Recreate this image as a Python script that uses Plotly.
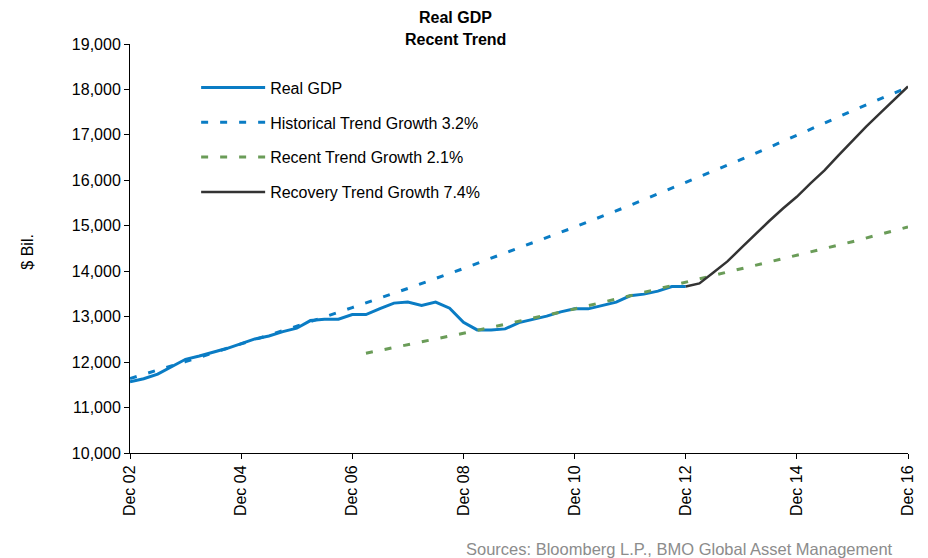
import pandas as pd
import plotly.graph_objects as go

# Quarterly dates, Dec 02 to Dec 16
quarters = pd.date_range("2002-12-01", "2016-12-01", freq="3MS")

# Real GDP ($ Bil.), Dec 02 - Dec 12
real_gdp = [11567, 11634, 11737, 11898, 12062, 12135, 12216, 12304, 12406, 12510,
            12576, 12671, 12746, 12914, 12945, 12945, 13046, 13046, 13179, 13298,
            13320, 13245, 13320, 13187, 12878, 12709, 12709, 12731, 12870, 12945,
            13011, 13106, 13172, 13172, 13238, 13320, 13459, 13496, 13562, 13664,
            13664]

# Recovery trend, Dec 12 - Dec 16
recovery = [13664, 13731, 13974, 14216, 14512, 14806, 15100, 15380, 15638, 15932,
            16219, 16550, 16865, 17183, 17477, 17770, 18065]

# Historical trend, read at each December
hist_dates = ["2002-12-01", "2003-12-01", "2004-12-01", "2005-12-01", "2006-12-01",
              "2007-12-01", "2008-12-01", "2009-12-01", "2010-12-01", "2011-12-01",
              "2012-12-01", "2013-12-01", "2014-12-01", "2015-12-01", "2016-12-01"]
hist_trend = [11640, 12010, 12400, 12790, 13200, 13620, 14060, 14510, 14970, 15450,
              15950, 16460, 16990, 17530, 18050]

# Recent trend, from Mar 07
recent_dates = ["2007-03-01", "2007-12-01", "2008-12-01", "2009-12-01", "2010-12-01",
                "2011-12-01", "2012-12-01", "2013-12-01", "2014-12-01", "2015-12-01",
                "2016-12-01"]
recent_trend = [12195, 12380, 12635, 12900, 13170, 13460, 13760, 14050, 14350, 14650,
                14975]

tick_dates = ["2002-12-01", "2004-12-01", "2006-12-01", "2008-12-01", "2010-12-01",
              "2012-12-01", "2014-12-01", "2016-12-01"]

font = "Liberation Sans, Arial, sans-serif"

fig = go.Figure()
fig.add_trace(go.Scatter(x=quarters[:41], y=real_gdp, mode="lines", name="Real GDP",
                         legendgroup="a", line=dict(color="#0a7cc4", width=3)))
fig.add_trace(go.Scatter(x=hist_dates, y=hist_trend, mode="lines",
                         name="Historical Trend Growth 3.2%", legendgroup="b",
                         line=dict(color="#0a7cc4", width=3, dash="7px,12px")))
fig.add_trace(go.Scatter(x=recent_dates, y=recent_trend, mode="lines",
                         name="Recent Trend Growth 2.1%", legendgroup="c",
                         line=dict(color="#6a9c58", width=3, dash="7px,12px")))
fig.add_trace(go.Scatter(x=quarters[40:], y=recovery, mode="lines",
                         name="Recovery Trend Growth 7.4%", legendgroup="d",
                         line=dict(color="#333333", width=2.5)))

# page has an 8px body margin, so the figure is sized to fit the window
fig.update_layout(
    width=920, height=550,
    margin=dict(l=122, r=16, t=36, b=105),
    paper_bgcolor="white", plot_bgcolor="white",
    font=dict(family=font, size=16, color="black"),
    showlegend=True,
    legend=dict(x=0.085, y=0.935, xanchor="left", yanchor="top",
                bgcolor="rgba(0,0,0,0)", font=dict(size=16),
                itemwidth=64, tracegroupgap=11, traceorder="grouped"),
    xaxis=dict(type="date", range=["2002-12-01", "2016-12-01"],
               tickvals=tick_dates, tickformat="%b %y", tickangle=-90,
               showline=True, linecolor="black", linewidth=1,
               ticks="outside", ticklen=5, tickcolor="black",
               showgrid=False, zeroline=False),
    yaxis=dict(range=[10000, 19000], dtick=1000, tickformat=",d",
               showline=True, linecolor="black", linewidth=1,
               ticks="outside", ticklen=5, tickcolor="black",
               showgrid=False, zeroline=False),
    annotations=[
        dict(text="<b>Real GDP</b>", xref="paper", yref="paper",
             x=0.418, y=1.064, xanchor="center", yanchor="middle",
             showarrow=False, font=dict(size=16)),
        dict(text="<b>Recent Trend</b>", xref="paper", yref="paper",
             x=0.418, y=1.012, xanchor="center", yanchor="middle",
             showarrow=False, font=dict(size=16)),
        dict(text="$ Bil.", xref="paper", yref="paper", x=-0.132, y=0.493,
             xanchor="center", yanchor="middle", textangle=-90,
             showarrow=False, font=dict(size=16)),
        dict(text="Sources: Bloomberg L.P., BMO Global Asset Management",
             xref="paper", yref="paper", x=0.983, y=-0.235,
             xanchor="right", yanchor="middle", showarrow=False,
             font=dict(size=16.5, color="#8c8c8c")),
    ],
)

fig.write_html("out.html")
